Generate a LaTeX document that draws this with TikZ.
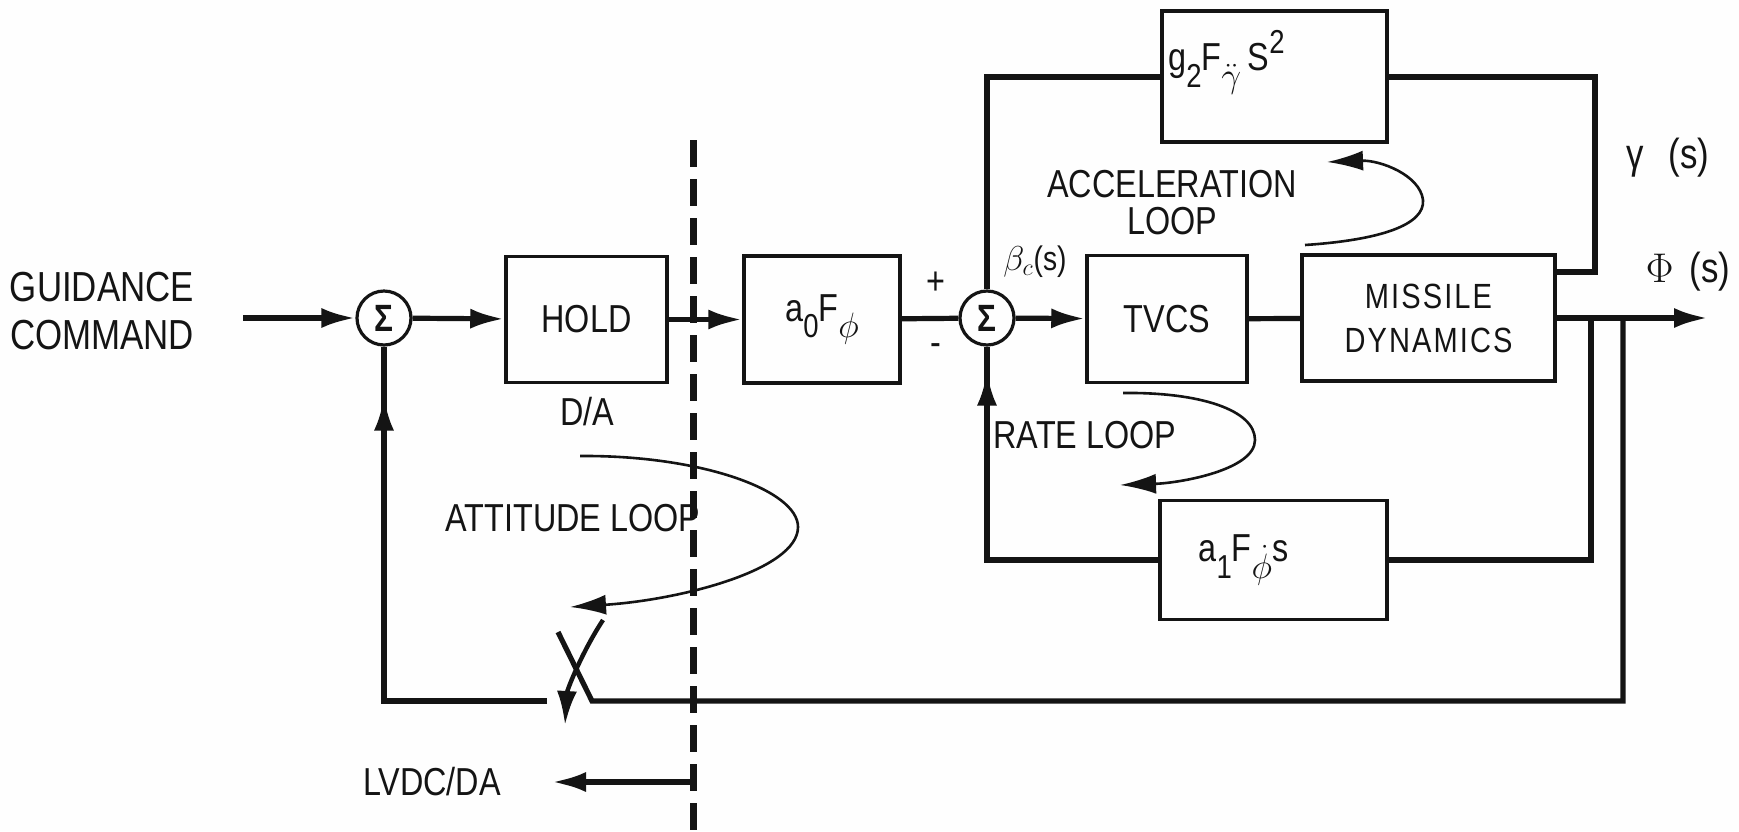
\documentclass[tikz,border=0pt]{standalone}
\usepackage{fontspec}
\setmainfont{Liberation Sans}[FakeStretch=0.83]
\newfontfamily\wideface{Liberation Sans}[FakeStretch=0.83,LetterSpace=6]
\usetikzlibrary{arrows.meta,decorations.markings,calc}
\definecolor{Ink}{HTML}{141414}
\definecolor{Paper}{HTML}{FEFEFE}
\newcommand\dn[1]{\raisebox{-0.42em}{\scalebox{0.85}{#1}}}
\newcommand\up[1]{\raisebox{0.45em}{\scalebox{0.85}{#1}}}
\tikzset{
  block/.style={draw=Ink,line width=1.75pt,inner sep=0pt,text=Ink,
    font=\fontsize{19.5}{23}\selectfont},
  summer/.style={circle,draw=Ink,line width=1.6pt,minimum size=27pt,inner sep=0pt,
    text=Ink,font=\fontsize{19}{19}\selectfont\bfseries},
  lbl/.style={text=Ink,font=\fontsize{19.5}{23}\selectfont},
  wire/.style={draw=Ink,line width=2.6pt},
  feed/.style={wire,-{Latex[length=17pt,width=10pt]}},
  midarrow/.style={wire,postaction={decorate},decoration={markings,
    mark=at position #1 with {\arrow{Latex[length=17pt,width=10pt]}}}},
  loopline/.style={draw=Ink,line width=1.3pt,-{Latex[length=18pt,width=10pt]}},
}

\begin{document}
\begin{tikzpicture}[x=0.5pt,y=-0.5pt]
\path[use as bounding box,fill=Paper] (0,0) rectangle (1739,831);

% forward path
\node[lbl,align=center,font=\fontsize{21}{24}\selectfont] (guide) at (102,311) {GUIDANCE\\COMMAND};
\coordinate (gin) at (243,318);
\node[summer] (sumA) at (384,318) {Σ};
\node[block,minimum width=80.5pt,minimum height=63pt] (hold) at (586.5,319.5) {HOLD};
\node[block,minimum width=78pt,minimum height=63.5pt] (gainA) at (822,319.5) {a\dn{0}F\dn{$\phi$}};
\node[summer] (sumB) at (987,318) {Σ};
\node[block,minimum width=80pt,minimum height=63.5pt] (tvcs) at (1167,319) {TVCS};
\node[block,minimum width=126.5pt,minimum height=63pt,align=center,
  font=\fontsize{17.5}{22}\wideface] (plant) at (1428.5,318) {MISSILE\\DYNAMICS};
\node[block,minimum width=112.5pt,minimum height=65.5pt] (gainG) at (1274.5,76.5)
  {\raisebox{26pt}{g\dn{2}F\dn{$\ddot{\gamma}$}\,S\up{2}}\hspace*{48pt}};
\node[block,minimum width=113.5pt,minimum height=59.5pt] (gainR) at (1273.5,560)
  {a\dn{1}F\dn{$\dot{\phi}$}s\hspace*{30pt}};
\coordinate (out) at (1708,318);

\draw[feed] (gin) -- (sumA);
\draw[feed] (sumA) -- (hold);
\draw[feed] (hold) -- (gainA);
\draw[wire] (gainA) -- (sumB);
\draw[feed] (sumB) -- (tvcs);
\draw[wire] (tvcs) -- (plant);
\draw[feed] (plant) -- (out);

% acceleration loop
\draw[wire,line width=3pt] ([yshift=23pt]plant.east) -- ++(38,0) |- (gainG.east);
\draw[wire,line width=3pt] (gainG.west) -| (sumB.north);

% rate loop
\coordinate (brate) at (1591,318);
\draw[wire] (brate) |- (gainR.east);
\draw[midarrow=-12.5pt] (gainR.west) -| (sumB.south);

% attitude loop with switch
\coordinate (bout) at (1623,318);
\coordinate (swR) at (592,701);
\coordinate (swL) at (547,701);
\draw[wire] (bout) |- (swR) -- ++(-34,-69);
\draw[midarrow=-25pt] (swL) -| (sumA.south);
\draw[draw=Ink,line width=2.2pt,-{Latex[length=17pt,width=10pt]}]
  (603,620) .. controls (582,652) and (567,690) .. (565,725);

% computer boundary
\draw[draw=Ink,line width=3.5pt,dash pattern=on 13.5pt off 6pt] (693,140) -- (693,831);
\coordinate (lvdc) at (693,782);
\node[lbl,anchor=east] (lvdcTxt) at (508,782) {LVDC/DA};
\draw[feed] (lvdc) -- ([xshift=22pt]lvdcTxt.east);

% loop arrows
\draw[loopline] (580,456) .. controls (700,455) and (798,490) .. (798,527)
  .. controls (798,570) and (680,600) .. (570,607);
\draw[loopline] (1123,393) .. controls (1200,392) and (1255,410) .. (1255,440)
  .. controls (1255,470) and (1180,483) .. (1120,485);
\draw[loopline] (1305,245) .. controls (1380,240) and (1425,225) .. (1423,200)
  .. controls (1420,175) and (1380,160) .. (1327,162);

% labels
\node[lbl] (dalbl) at (587,412) {D/A};
\node[lbl] (attlbl) at (573,518) {ATTITUDE LOOP};
\node[lbl] (ratelbl) at (1085,435) {RATE LOOP};
\node[lbl,align=center,font=\fontsize{19.5}{18.5}\selectfont] (acclbl) at (1172,203) {ACCELERATION\\LOOP};
\node[lbl,font=\fontsize{17}{20}\selectfont] (betalbl) at (1035,262) {$\beta_c$(s)};
\node[lbl] (plus) at (936,283) {+};
\node[lbl] (minus) at (936,350) {-};
\node[lbl,font=\fontsize{21}{24}\selectfont] (gamlbl) at (1668,158) {γ\hspace{12pt}(s)};
\node[lbl,font=\fontsize{21}{24}\selectfont] (philbl) at (1688,272) {$\Phi$\hspace{8pt}(s)};
\end{tikzpicture}
\end{document}
